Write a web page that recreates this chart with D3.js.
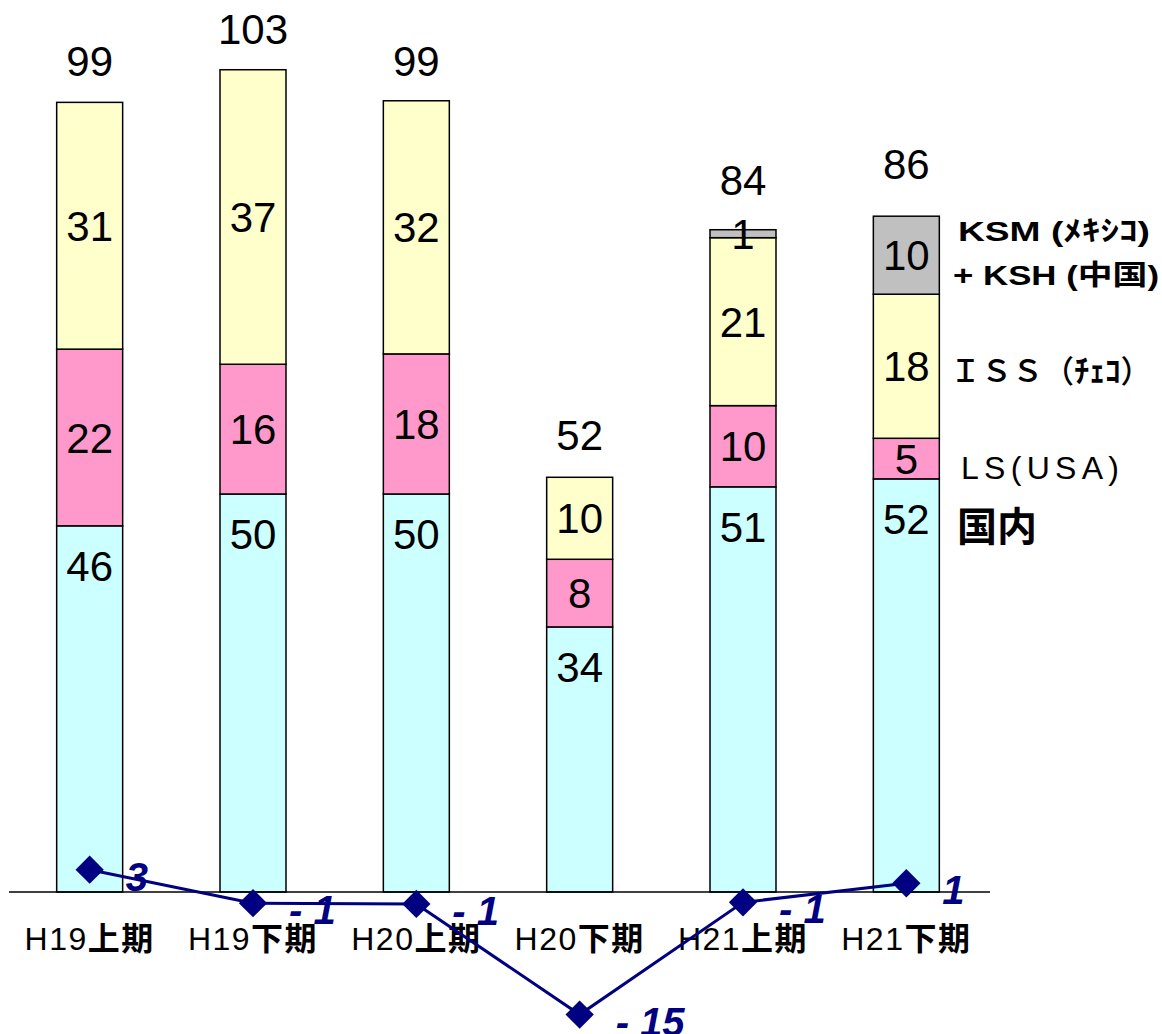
<!DOCTYPE html>
<html><head><meta charset="utf-8">
<script src="https://cdn.jsdelivr.net/npm/d3@7"></script>
<style>
html,body{margin:0;padding:0;background:#fff;}
svg{display:block;}
</style></head>
<body>
<svg id="chart" width="1162" height="1034"></svg>
<script>
// ---- data ----
const categories = ["H19上期","H19下期","H20上期","H20下期","H21上期","H21下期"];
const seriesNames = ["国内","LS(USA)","ISS(チェコ)","KSM+KSH"];
const domestic   = [46.0, 50.0, 50.0, 33.3, 50.9, 51.9];
const ls         = [22.2, 16.3, 17.6, 8.5, 10.2, 5.1];
const iss        = [31.0, 37.0, 31.8, 10.3, 21.1, 18.1];
const ksm        = [0, 0, 0, 0, 1.0, 9.8];
const domesticLabels = ["46","50","50","34","51","52"];
const lsLabels       = ["22","16","18","8","10","5"];
const issLabels      = ["31","37","32","10","21","18"];
const ksmLabels      = ["","","","","1","10"];
const totals         = [99, 103, 99, 52, 84, 86];
const profit         = [2.8, -1.4, -1.5, -15.4, -1.3, 1.1];
const profitLabels   = ["3","-1","-1","-15","-1","1"];

const colors = ["#CCFFFF","#FF99CC","#FFFFCC","#C0C0C0"];
const seriesValues = [domestic, ls, iss, ksm];
const seriesLabels = [domesticLabels, lsLabels, issLabels, ksmLabels];

const svg = d3.select("#chart");
const x = d3.scaleBand().domain(categories).range([8, 988]).paddingInner(0.596).paddingOuter(0.298);
const y = d3.scaleLinear().domain([0, 100]).range([892, 96]);

const table = categories.map((c, i) => {
  const o = {cat: c};
  seriesNames.forEach((s, k) => o[s] = seriesValues[k][i]);
  return o;
});
const stacked = d3.stack().keys(seriesNames)(table);

// bars
stacked.forEach((layer, k) => {
  svg.append("g").selectAll("rect")
    .data(layer.filter(d => d[1] - d[0] > 0))
    .join("rect")
    .attr("x", d => x(d.data.cat))
    .attr("width", x.bandwidth())
    .attr("y", d => y(d[1]))
    .attr("height", d => y(d[0]) - y(d[1]))
    .attr("fill", colors[k])
    .attr("stroke", "#000")
    .attr("stroke-width", 1.5);
});

// axis baseline
svg.append("line").attr("x1", 9).attr("x2", 990).attr("y1", y(0)).attr("y2", y(0))
  .attr("stroke", "#000").attr("stroke-width", 1.5);

// segment labels
const segFont = 42;
stacked.forEach((layer, k) => {
  svg.append("g").selectAll("text")
    .data(layer.map((d, i) => ({d, i})).filter(o => seriesLabels[k][o.i] !== ""))
    .join("text")
    .attr("x", o => x(o.d.data.cat) + x.bandwidth() / 2)
    .attr("y", o => {
      const cy = k === 0 ? y(o.d[1]) + 40 : (y(o.d[0]) + y(o.d[1])) / 2;
      return cy + segFont * 0.36;
    })
    .attr("text-anchor", "middle")
    .attr("font-family", "Liberation Sans, Arial, sans-serif")
    .attr("font-size", segFont)
    .attr("fill", "#000")
    .text(o => seriesLabels[k][o.i]);
});

// totals
svg.append("g").selectAll("text").data(totals).join("text")
  .attr("x", (d, i) => x(categories[i]) + x.bandwidth() / 2)
  .attr("y", d => y(d) - 28)
  .attr("text-anchor", "middle")
  .attr("font-family", "Liberation Sans, Arial, sans-serif")
  .attr("font-size", 42)
  .text(d => d);

// category labels
const catG = svg.append("g");
categories.forEach(c => {
  const m = c.match(/^(H\d+)(.*)$/);
  const t = catG.append("text")
    .attr("x", x(c) + x.bandwidth() / 2)
    .attr("y", 950)
    .attr("text-anchor", "middle")
    .attr("font-size", 32)
    .attr("letter-spacing", 1.5);
  t.append("tspan").attr("font-family", "Liberation Sans, Arial, sans-serif").text(m[1]);
  t.append("tspan").attr("font-family", "Noto Sans CJK JP").attr("font-weight", "bold").text(m[2]);
});

// profit line
const cx = (d, i) => x(categories[i]) + x.bandwidth() / 2;
const line = d3.line().x((d, i) => cx(d, i)).y(d => y(d));
svg.append("path").datum(profit).attr("d", line)
  .attr("fill", "none").attr("stroke", "#000080").attr("stroke-width", 3);
svg.append("g").selectAll("path").data(profit).join("path")
  .attr("d", d3.symbol(d3.symbolSquare, 400))
  .attr("transform", (d, i) => `translate(${cx(d, i)},${y(d)}) rotate(45)`)
  .attr("fill", "#000080");
svg.append("g").selectAll("text").data(profitLabels).join("text")
  .attr("x", (d, i) => cx(profit[i], i) + 36)
  .attr("y", (d, i) => y(profit[i]) + 21)
  .attr("font-family", "Liberation Sans, Arial, sans-serif")
  .attr("font-style", "italic")
  .attr("font-weight", "bold")
  .attr("font-size", 40)
  .attr("fill", "#000080")
  .attr("xml:space", "preserve")
  .text(d => d.startsWith("-") ? "- " + d.slice(1) : d);

// series legend labels at right
const lg = svg.append("g");
lg.append("text").attr("x", 958).attr("y", 241).attr("font-size", 28).attr("font-weight", "bold")
  .attr("font-family", "Liberation Sans, Arial, sans-serif")
  .call(t => { t.append("tspan").text("KSM ("); t.append("tspan").attr("font-family", "Noto Sans CJK JP").text("ﾒｷｼｺ"); t.append("tspan").text(")"); })
  .attr("textLength", 192).attr("lengthAdjust", "spacingAndGlyphs");
lg.append("text").attr("x", 953).attr("y", 285).attr("font-size", 28).attr("font-weight", "bold")
  .attr("font-family", "Liberation Sans, Arial, sans-serif")
  .call(t => { t.append("tspan").text("+ KSH ("); t.append("tspan").attr("font-family", "Noto Sans CJK JP").text("中国"); t.append("tspan").text(")"); })
  .attr("textLength", 206).attr("lengthAdjust", "spacingAndGlyphs");
lg.append("text").attr("x", 950).attr("y", 382).attr("font-size", 31).attr("font-weight", 500)
  .attr("font-family", "Noto Sans CJK JP")
  .call(t => { t.append("tspan").text("ＩＳＳ（"); t.append("tspan").attr("font-weight", "bold").text("ﾁｪｺ"); t.append("tspan").text("）"); });
lg.append("text").attr("x", 961).attr("y", 479).attr("font-size", 32)
  .attr("font-family", "Liberation Sans, Arial, sans-serif")
  .attr("textLength", 158).attr("lengthAdjust", "spacing")
  .text("LS(USA)");
lg.append("text").attr("x", 957).attr("y", 541).attr("font-size", 40).attr("font-weight", "bold")
  .attr("font-family", "Noto Sans CJK JP")
  .text("国内");
</script>
</body></html>
